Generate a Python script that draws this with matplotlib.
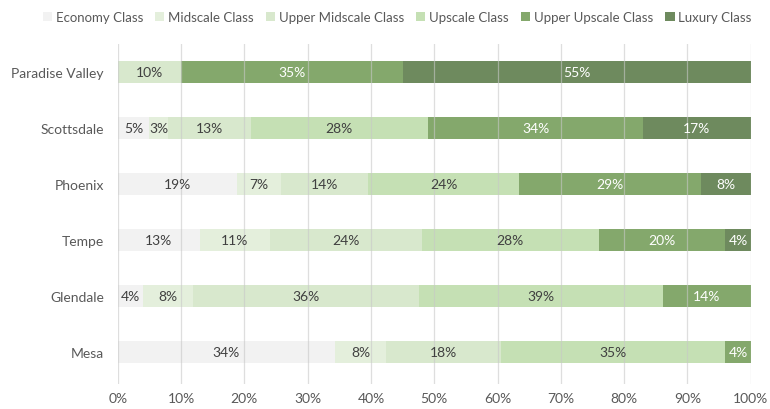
import numpy as np
import matplotlib.pyplot as plt

plt.rcParams['font.family'] = ['Lato', 'DejaVu Sans']

# 도시 (위에서 아래 순서)
cities = ['Paradise Valley', 'Scottsdale', 'Phoenix', 'Tempe', 'Glendale', 'Mesa']
classes = ['Economy Class', 'Midscale Class', 'Upper Midscale Class',
           'Upscale Class', 'Upper Upscale Class', 'Luxury Class']

# 등급별 비율 (%), 그림에서 읽은 값
economy        = [0, 5, 19, 13, 4, 34]
midscale       = [0, 3, 7, 11, 8, 8]
upper_midscale = [10, 13, 14, 24, 36, 18]
upscale        = [0, 28, 24, 28, 39, 35]
upper_upscale  = [35, 34, 29, 20, 14, 4]
luxury         = [55, 17, 8, 4, 0, 0]

colors = ['#f2f2f2', '#e4efdc', '#d8e8cd', '#c5e0b4', '#84a86c', '#6e8a5e']
label_colors = ['#404040', '#404040', '#404040', '#404040', 'white', 'white']

series = np.array([economy, midscale, upper_midscale, upscale, upper_upscale, luxury], dtype=float)
totals = series.sum(axis=0)
share = series / totals * 100   # 100% 누적 막대

fig = plt.figure(figsize=(7.7, 4.1), dpi=100)
ax = fig.add_axes([0.153, 0.061, 0.822, 0.829])

y = np.arange(len(cities))[::-1]
left = np.zeros(len(cities))
for k in range(len(classes)):
    ax.barh(y, share[k], left=left, height=0.4, color=colors[k], label=classes[k], zorder=2)
    for i in range(len(cities)):
        if series[k][i] > 0:
            ax.text(left[i] + share[k][i] / 2, y[i], '%d%%' % series[k][i],
                    ha='center', va='center', fontsize=10, color=label_colors[k], zorder=4)
    left += share[k]

ax.set_xlim(0, 100)
ax.set_ylim(-0.57, 5.5)
ax.set_xticks(np.arange(0, 101, 10))
ax.set_xticklabels(['%d%%' % v for v in range(0, 101, 10)])
ax.set_yticks(y)
ax.set_yticklabels(cities)
ax.tick_params(length=0, colors='#595959', labelsize=10)
ax.tick_params(axis='y', pad=10)
ax.tick_params(axis='x', pad=6)
ax.grid(axis='x', color='#c8c8c8', linewidth=0.9, alpha=0.6, zorder=3)
ax.set_axisbelow(False)
for s in ax.spines.values():
    s.set_visible(False)

leg = fig.legend(loc='upper center', bbox_to_anchor=(0.516, 1.0), ncol=6, frameon=False,
                 fontsize=9.5, handlelength=0.7, handleheight=0.7, handletextpad=0.3,
                 columnspacing=0.9, labelcolor='#595959')

fig.savefig('out.png', dpi=100)
